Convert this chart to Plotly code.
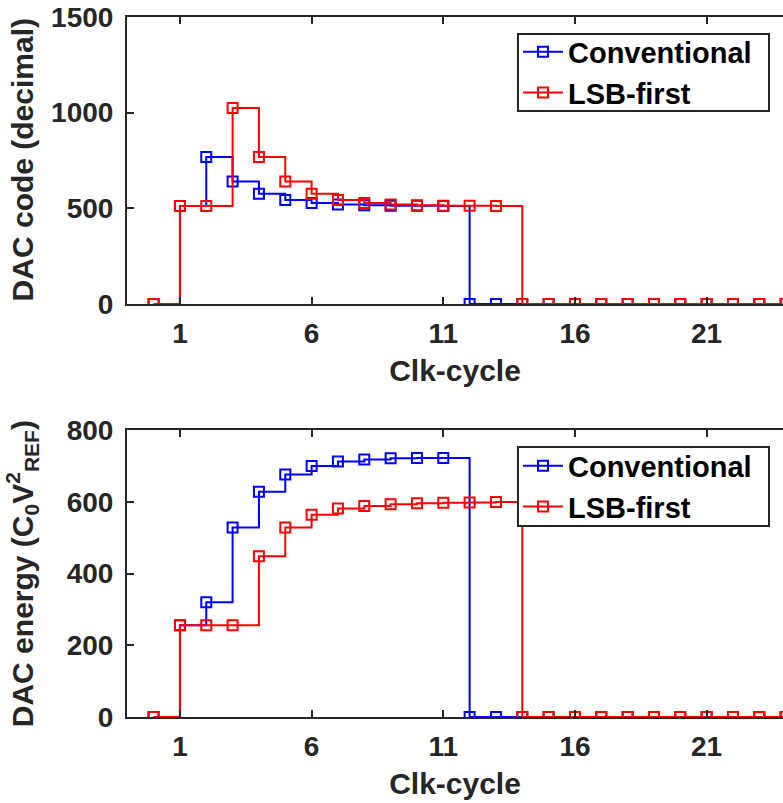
import plotly.graph_objects as go
from plotly.subplots import make_subplots

# ---- data ----
clk = list(range(0, 25))
code_conv = [0, 512, 768, 640, 576, 544, 528, 520, 516, 514, 513, 512] + [0] * 13
code_lsb = [0, 512, 512, 1024, 768, 640, 576, 544, 528, 520, 516, 514, 513, 512] + [0] * 11
energy_conv = [0, 256, 320, 528, 628, 676, 700, 712, 718, 721, 722, 722] + [0] * 13
energy_lsb = [0, 256, 256, 256, 448, 528, 564, 581, 588, 593, 596, 597, 598, 599] + [0] * 11
x_ticks = [1, 6, 11, 16, 21]
y1_ticks = [0, 500, 1000, 1500]
y2_ticks = [0, 200, 400, 600, 800]

BLUE = "#0000FF"
RED = "#FF0000"
INK = "#262626"
FONT = "Liberation Sans"

fig = make_subplots(rows=2, cols=1, vertical_spacing=0.0)

def add_series(y, name, color, row, legend):
    fig.add_trace(go.Scatter(
        x=clk, y=y, name=name, mode="lines+markers",
        line=dict(shape="hv", color=color, width=2),
        marker=dict(symbol="square-open", size=10, color=color, line=dict(width=2, color=color)),
        legend=legend, showlegend=True,
    ), row=row, col=1)

add_series(code_conv, "Conventional", BLUE, 1, "legend")
add_series(code_lsb, "LSB-first", RED, 1, "legend")
add_series(energy_conv, "Conventional", BLUE, 2, "legend2")
add_series(energy_lsb, "LSB-first", RED, 2, "legend2")

tickfont = dict(family=FONT, size=28, color=INK, weight="bold")
titlefont = dict(family=FONT, size=30, color=INK, weight="bold")
legfont = dict(family=FONT, size=29, color="black", weight="bold")

xaxis_common = dict(
    range=[-1.01, 23.9], tickmode="array", tickvals=x_ticks,
    ticks="inside", ticklen=7, tickwidth=2, tickcolor=INK,
    showline=True, linewidth=2, linecolor=INK, mirror="ticks",
    showgrid=False, zeroline=False, tickfont=tickfont,
    title=dict(text="Clk-cycle", font=titlefont, standoff=12),
    ticklabelstandoff=3, automargin=False,
)
yaxis_common = dict(
    ticks="inside", ticklen=7, tickwidth=2, tickcolor=INK,
    showline=True, linewidth=2, linecolor=INK, mirror=False,
    showgrid=False, zeroline=False, tickfont=tickfont,
    ticklabelstandoff=6, automargin=False,
)

legend_common = dict(
    xanchor="left", yanchor="middle",
    bgcolor="rgba(0,0,0,0)", borderwidth=0,
    font=legfont, tracegroupgap=0, itemwidth=40,
)

box_style = dict(type="rect", xref="paper", yref="paper", layer="above",
                 fillcolor="white", line=dict(color=INK, width=2))

fig.update_layout(
    width=783, height=803,
    margin=dict(l=127, r=0, t=17, b=86),
    plot_bgcolor="white", paper_bgcolor="white",
    xaxis=dict(domain=[0, 1], **xaxis_common),
    xaxis2=dict(domain=[0, 1], **xaxis_common),
    yaxis=dict(domain=[0.59, 1.0], range=[0, 1500], tickvals=y1_ticks, **yaxis_common),
    yaxis2=dict(domain=[0.0, 0.41], range=[0, 800], tickvals=y2_ticks, **yaxis_common),
    legend=dict(x=0.596, y=0.9207, **legend_common),
    legend2=dict(x=0.596, y=0.3293, **legend_common),
    shapes=[
        dict(x0=0.596, x1=0.9787, y0=0.8657, y1=0.9757, **box_style),
        dict(x0=0.596, x1=0.9787, y0=0.2729, y1=0.3857, **box_style),
    ],
    annotations=[
        dict(text="DAC code (decimal)", xref="paper", yref="paper",
             x=-0.1595, y=0.7957, xanchor="center", yanchor="middle",
             textangle=-90, showarrow=False, font=titlefont),
        dict(text="DAC energy (C<sub>0</sub>V<sup>2</sup><sub>REF</sub>)", xref="paper", yref="paper",
             x=-0.1605, y=0.205, xanchor="center", yanchor="middle",
             textangle=-90, showarrow=False, font=titlefont),
    ],
)

fig.write_html("out.html", config={"displayModeBar": False},
               post_script="document.body.style.margin='0';")
